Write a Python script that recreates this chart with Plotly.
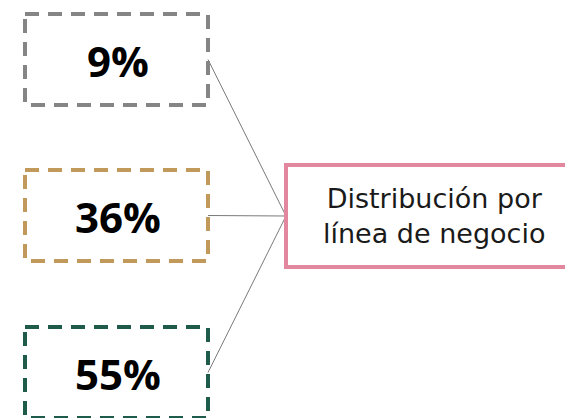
import plotly.graph_objects as go

# shares per line of business, top to bottom
shares = [9, 36, 55]
share_colors = ["#858585", "#C19A5B", "#1F5B4B"]
hub_label = "Distribución por<br>línea de negocio"
hub_color = "#E3879F"

W, H = 565, 418

fig = go.Figure()

box_x0, box_x1 = 25, 208
box_h = 91
box_tops = [14, 170, 327]
hub = dict(x0=286, x1=590, y0=165, y1=267)
hub_mid_y = (hub["y0"] + hub["y1"]) / 2

shapes = []
annotations = []
for val, col, top in zip(shares, share_colors, box_tops):
    mid = top + box_h / 2
    # connector to the hub
    shapes.append(dict(type="line", x0=box_x1, y0=mid, x1=hub["x0"], y1=hub_mid_y,
                       line=dict(color="#7a7a7a", width=1), layer="below"))
    shapes.append(dict(type="rect", x0=box_x0, x1=box_x1, y0=top, y1=top + box_h,
                       line=dict(color=col, width=4, dash="14px,9px"),
                       fillcolor="rgba(0,0,0,0)"))
    annotations.append(dict(x=(box_x0 + box_x1) / 2 + 1, y=mid + 1, text=f"<b>{val}%</b>",
                            showarrow=False, xanchor="center", yanchor="middle",
                            font=dict(size=42, color="#000000", family="Open Sans")))

shapes.append(dict(type="rect", **hub, line=dict(color=hub_color, width=4),
                   fillcolor="white"))
annotations.append(dict(x=434, y=hub_mid_y, text=hub_label, showarrow=False,
                        xanchor="center", yanchor="middle",
                        font=dict(size=27, color="#1a1a1a", family="DejaVu Sans")))

fig.update_layout(
    width=W, height=H,
    margin=dict(l=0, r=0, t=0, b=0),
    paper_bgcolor="white", plot_bgcolor="white",
    xaxis=dict(range=[0, W], visible=False, fixedrange=True),
    yaxis=dict(range=[H, 0], visible=False, fixedrange=True),
    shapes=shapes,
    annotations=annotations,
    showlegend=False,
)

fig.write_html("out.html", config={"displayModeBar": False},
               post_script="document.body.style.margin='0';document.body.style.overflow='hidden';")
